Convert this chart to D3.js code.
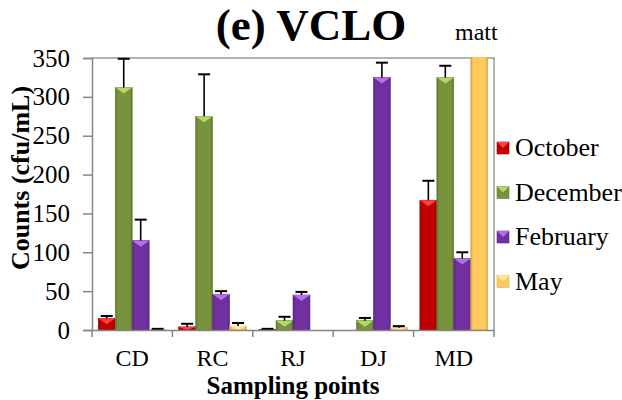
<!DOCTYPE html>
<html>
<head>
<meta charset="utf-8">
<script src="https://cdnjs.cloudflare.com/ajax/libs/d3/7.8.5/d3.min.js"></script>
<style>
  body { margin: 0; background: #fff; }
  text { font-family: "Liberation Serif", "Times New Roman", serif; }
</style>
</head>
<body>
<svg id="chart" width="622" height="400"></svg>
<script>
var sites = ["CD", "RC", "RJ", "DJ", "MD"];
var months = ["October", "December", "February", "May"];
var colors = ["#C00000", "#77933C", "#7030A0", "#FFC95E"];
var lightColors = ["#FF4040", "#B5D66A", "#B46EE6", "#FFE8A0"];

// counts per month, one value per site
var october = [15, 4, 0.5, 0, 167];
var december = [312, 275, 12, 12, 325];
var february = [115, 46, 45, 325, 92];
var may = [0.5, 5, 0, 3, 360];

// upper error (value + sd)
var octoberErr = [18, 8, 1.5, 0, 192];
var decemberErr = [349, 329, 17, 15.5, 340];
var februaryErr = [142, 50, 49, 344, 100];
var mayErr = [1.5, 9, 0, 5, 365];

var yTicks = [0, 50, 100, 150, 200, 250, 300, 350];

var series = [october, december, february, may];
var errors = [octoberErr, decemberErr, februaryErr, mayErr];

var svg = d3.select("#chart");
var plotLeft = 92, plotRight = 494, plotTop = 58, plotBottom = 330;
var serif = "Liberation Serif, Times New Roman, serif";

var x = d3.scaleBand().domain(sites).range([plotLeft, plotRight]);
var xInner = d3.scaleBand().domain(months).range([0, x.bandwidth()]).paddingOuter(0.37);
var y = d3.scaleLinear().domain([0, 350]).range([plotBottom, plotTop]);

var data = [];
sites.forEach(function (s, i) {
  months.forEach(function (m, j) {
    data.push({ site: s, month: m, k: j, value: series[j][i], err: errors[j][i] });
  });
});

var defs = svg.append("defs");
defs.append("clipPath").attr("id", "plotclip")
  .append("rect").attr("x", plotLeft).attr("y", plotTop - 1)
  .attr("width", plotRight - plotLeft).attr("height", plotBottom - plotTop + 1);

months.forEach(function (m, j) {
  var g = defs.append("linearGradient").attr("id", "grad" + j)
    .attr("x1", "0").attr("x2", "1").attr("y1", "0").attr("y2", "0");
  g.append("stop").attr("offset", "0%").attr("stop-color", d3.color(colors[j]).darker(0.6));
  g.append("stop").attr("offset", "15%").attr("stop-color", colors[j]);
  g.append("stop").attr("offset", "85%").attr("stop-color", colors[j]);
  g.append("stop").attr("offset", "100%").attr("stop-color", d3.color(colors[j]).darker(0.6));
});

// plot border
svg.append("line").attr("x1", plotLeft).attr("x2", plotRight + 1).attr("y1", plotTop).attr("y2", plotTop)
  .attr("stroke", "#9a9a9a").attr("stroke-width", 1.5);
svg.append("line").attr("x1", plotRight).attr("x2", plotRight).attr("y1", plotTop).attr("y2", plotBottom)
  .attr("stroke", "#9a9a9a").attr("stroke-width", 1.5);

var plot = svg.append("g").attr("clip-path", "url(#plotclip)");

var bars = plot.selectAll(".bar")
  .data(data.filter(function (d) { return d.value > 0; }))
  .enter()
  .append("g")
  .attr("class", "bar")
  .attr("transform", function (d) {
    return "translate(" + (x(d.site) + xInner(d.month)) + ",0)";
  });

var bw = xInner.bandwidth();

bars.append("rect")
  .attr("x", 0)
  .attr("width", bw)
  .attr("y", function (d) { return y(d.value); })
  .attr("height", function (d) { return plotBottom - y(d.value); })
  .attr("fill", function (d) { return "url(#grad" + d.k + ")"; })
  .attr("stroke", function (d) { return d3.color(colors[d.k]).darker(0.4); })
  .attr("stroke-width", 0.6);

bars.append("path")
  .attr("d", function (d) {
    var t = y(d.value);
    var h = Math.min(6, plotBottom - t);
    return "M0," + t + "L" + bw + "," + t + "L" + (bw / 2) + "," + (t + h) + "Z";
  })
  .attr("fill", function (d) { return lightColors[d.k]; });

// error bars (upper only)
var eb = plot.selectAll(".err")
  .data(data.filter(function (d) { return d.err > 0; }))
  .enter()
  .append("g")
  .attr("class", "err")
  .attr("transform", function (d) {
    return "translate(" + (x(d.site) + xInner(d.month) + bw / 2) + ",0)";
  });
eb.append("line")
  .attr("x1", 0).attr("x2", 0)
  .attr("y1", function (d) { return y(d.value); })
  .attr("y2", function (d) { return y(d.err); })
  .attr("stroke", "#000").attr("stroke-width", 1.6);
eb.append("line")
  .attr("x1", -6).attr("x2", 6)
  .attr("y1", function (d) { return y(d.err); })
  .attr("y2", function (d) { return y(d.err); })
  .attr("stroke", "#000").attr("stroke-width", 2);

// y axis
var yAxis = svg.append("g")
  .attr("transform", "translate(" + plotLeft + ",0)")
  .call(d3.axisLeft(y).tickValues(yTicks).tickSize(9).tickPadding(13));
yAxis.select(".domain").attr("stroke", "#868686").attr("stroke-width", 1.5);
yAxis.selectAll(".tick line").attr("stroke", "#868686").attr("stroke-width", 1.5);
yAxis.selectAll(".tick text")
  .attr("fill", "#000")
  .style("font-size", "25px")
  .style("font-family", serif);

// x axis
var xAxis = svg.append("g")
  .attr("transform", "translate(0," + plotBottom + ")")
  .call(d3.axisBottom(x).tickSize(0).tickPadding(19));
xAxis.select(".domain").attr("stroke", "#868686").attr("stroke-width", 1.5);
xAxis.selectAll(".tick text")
  .attr("fill", "#000")
  .style("font-size", "24px")
  .style("font-family", serif);
xAxis.selectAll(".sep")
  .data(sites.concat(["end"]))
  .enter()
  .append("line")
  .attr("x1", function (d, i) { return plotLeft + i * x.bandwidth(); })
  .attr("x2", function (d, i) { return plotLeft + i * x.bandwidth(); })
  .attr("y1", 0).attr("y2", 7)
  .attr("stroke", "#868686").attr("stroke-width", 1.5);

// titles
svg.append("text")
  .attr("x", 311).attr("y", 40)
  .attr("text-anchor", "middle")
  .style("font-size", "45px").style("font-weight", "bold")
  .text("(e) VCLO");
svg.append("text")
  .attr("x", 455).attr("y", 40)
  .style("font-size", "24px")
  .text("matt");
svg.append("text")
  .attr("x", 293).attr("y", 394)
  .attr("text-anchor", "middle")
  .style("font-size", "25px").style("font-weight", "bold")
  .text("Sampling points");
svg.append("text")
  .attr("transform", "translate(29,178) rotate(-90)")
  .attr("text-anchor", "middle")
  .style("font-size", "26px").style("font-weight", "bold")
  .text("Counts (cfu/mL)");

// legend
var legend = svg.selectAll(".legend")
  .data(months)
  .enter()
  .append("g")
  .attr("class", "legend")
  .attr("transform", function (d, i) { return "translate(497," + (148 + i * 44.5) + ")"; });
legend.append("rect")
  .attr("x", 0).attr("y", -6).attr("width", 12).attr("height", 12)
  .attr("fill", function (d, i) { return colors[i]; })
  .attr("stroke", function (d, i) { return d3.color(colors[i]).darker(0.4); })
  .attr("stroke-width", 0.6);
legend.append("path")
  .attr("d", "M0,-6L12,-6L6,0Z")
  .attr("fill", function (d, i) { return lightColors[i]; });
legend.append("text")
  .attr("x", 18).attr("y", 8)
  .style("font-size", "26px")
  .text(function (d) { return d; });
</script>
</body>
</html>
